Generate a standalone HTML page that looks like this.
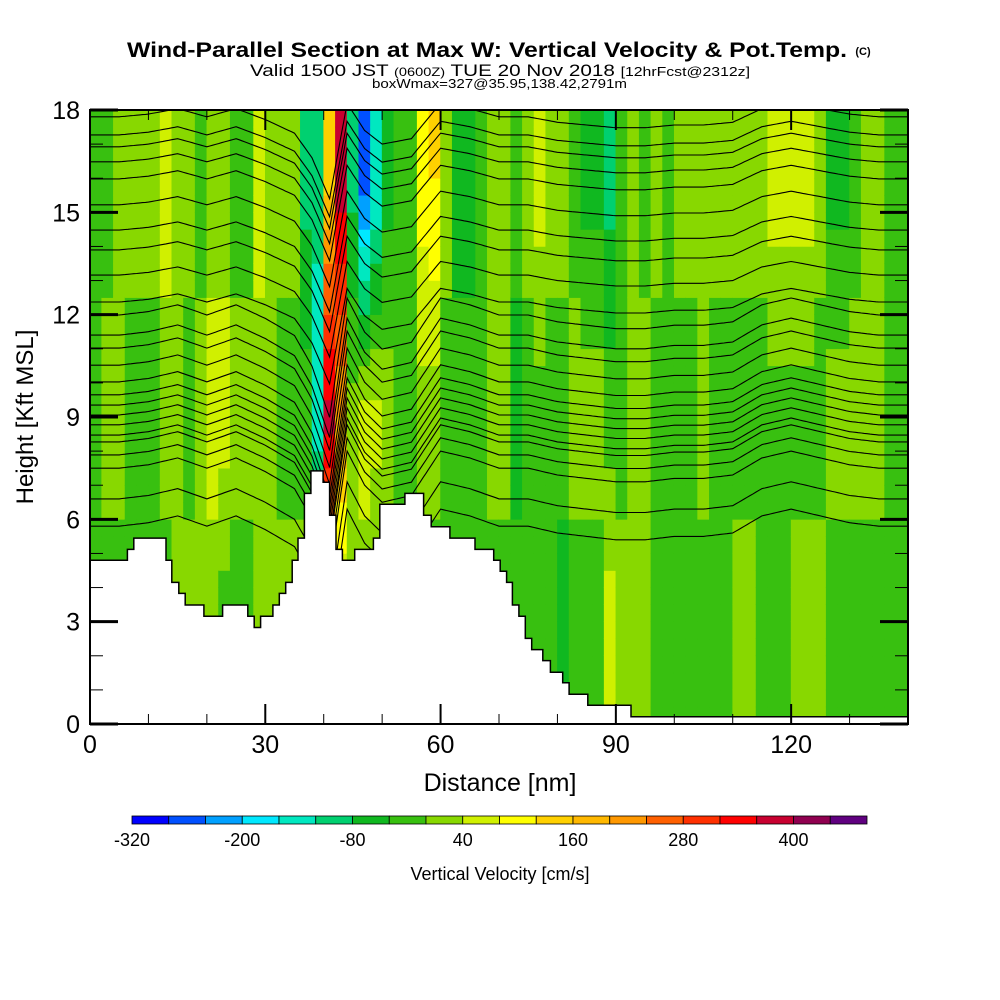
<!DOCTYPE html>
<html><head><meta charset="utf-8"><style>
body{margin:0;background:#fff;}
svg{display:block;font-family:"Liberation Sans",sans-serif;}
</style></head><body>
<svg id="chart" width="1000" height="1000" viewBox="0 0 1000 1000" xmlns="http://www.w3.org/2000/svg">
<rect width="1000" height="1000" fill="#fff"/>
<text x="127" y="57" textLength="720" lengthAdjust="spacingAndGlyphs" font-size="21" font-weight="bold">Wind-Parallel Section at Max W: Vertical Velocity &amp; Pot.Temp.</text>
<text x="863" y="55" text-anchor="middle" font-size="11" font-weight="bold">(C)</text>
<text x="250" y="76" textLength="500" lengthAdjust="spacingAndGlyphs" font-size="17">Valid 1500 JST <tspan font-size="12">(0600Z)</tspan> TUE 20 Nov 2018 <tspan font-size="13">[12hrFcst@2312z]</tspan></text>
<text x="372" y="88" textLength="255" lengthAdjust="spacingAndGlyphs" font-size="13">boxWmax=327@35.95,138.42,2791m</text>
<defs><clipPath id="plotclip"><rect x="90" y="110" width="818" height="614"/></clipPath></defs>
<g id="field" clip-path="url(#plotclip)"></g>
<g id="contours" clip-path="url(#plotclip)"></g>
<g id="terrain" clip-path="url(#plotclip)"></g>
<g id="axes"></g>
<g id="colorbar"></g>
<text x="500" y="791" text-anchor="middle" font-size="25">Distance [nm]</text>
<text transform="translate(33,417) rotate(-90)" text-anchor="middle" font-size="24">Height [Kft MSL]</text>
<text x="500" y="880" text-anchor="middle" font-size="18">Vertical Velocity [cm/s]</text>
</svg>
<script>
// ---- data ----
const xTicks = [0,30,60,90,120];
const yTicks = [0,3,6,9,12,15,18];
const cbTickLabels = [-320,-200,-80,40,160,280,400];
const cbLevels = [-320,-280,-240,-200,-160,-120,-80,-40,0,40,80,120,160,200,240,280,320,360,400,440,480];
const cbColors = ["#0000ff","#0050ff","#00a0ff","#00e8ff","#00e8c0","#00d070","#10b820","#38c010","#88d800","#d0f000","#ffff00","#ffd000","#ffb800","#ff9800","#ff6000","#ff3000","#ff0000","#c80030","#900050","#600080"];
const colNm = 2; // column width in nm
const wRowHeights = [3,9,16];
const wLow = [-20,-20,-20,-20,-20,-20,-20,20,20,20,20,-20,-20,-20,20,20,20,20,20,60,100,20,20,20,-20,-20,-20,-20,-20,-20,-20,-20,-20,-20,-20,-20,-20,-20,-20,-20,-60,-20,-20,-20,60,20,20,20,-20,-20,-20,-20,-20,-20,-20,20,20,-20,-20,-20,20,20,20,-20,-20,-20,-20,-20,-20,-20];
const wMid = [-20,20,20,-20,-20,-20,20,20,-20,20,60,60,20,20,20,20,-20,-20,-20,-160,380,200,20,60,60,20,-20,-20,20,20,-20,-20,-20,-20,20,20,-60,-20,-20,-20,-20,20,20,20,-20,-20,20,20,-20,-20,-20,-20,20,-20,-20,-20,-20,-20,-20,-20,-20,-20,-20,20,20,20,20,20,-20,-20];
const wTop = [-20,-20,20,20,20,20,60,20,20,-20,20,20,-20,-20,60,20,20,20,-100,-100,150,380,-100,-260,-160,-60,-20,-20,100,120,20,-60,-60,-20,20,20,-20,20,60,20,20,-20,-60,-60,-100,-20,20,-20,20,-20,20,20,20,20,20,20,20,20,60,60,60,60,20,-60,-60,-20,20,20,-20,-20];
const terrainX = [0,6.4,7.5,13,14,15.2,16.3,19.5,22.7,27,28.1,29.2,31.3,32.4,33.5,34.6,35.6,36.7,37.8,39.9,41,42.1,43.2,45.3,48.5,49.6,53.9,57.1,58.4,61.6,65.9,69.1,70.2,71.3,72.3,73.4,74.5,75.6,77.5,78.8,80.9,82,85.2,92.6,140];
const terrainH = [4.8,5.12,5.45,4.8,4.15,3.83,3.49,3.16,3.49,3.16,2.83,3.16,3.49,3.83,4.15,4.8,5.45,6.76,7.42,7.09,6.12,5.12,4.8,5.12,5.45,6.44,6.76,6.12,5.78,5.45,5.12,4.8,4.48,4.15,3.49,3.16,2.51,2.18,1.86,1.52,1.21,0.87,0.55,0.21];
const thetaLevels = [17.8,17.27,16.92,16.48,15.98,15.22,14.48,13.9,13.16,12.37,11.99,11.4,11.02,10.52,10.03,9.65,9.35,9.06,8.77,8.47,8.27,7.89,7.5,6.6,5.8];
const dispNm = [0,5,10,15,20,25,30,35,38,41,44,47,50,55,60,65,70,75,80,85,90,95,100,105,110,115,120,125,130,135,140];
const dispKft = [0,0,0.1,0.3,0,0.3,-0.1,-0.6,-1.5,-3.0,0.5,-0.5,-1.0,-0.8,0.5,0.3,0,0,-0.2,-0.3,-0.4,-0.4,-0.3,-0.3,-0.2,0.3,0.5,0.3,0.1,0,0];

// ---- scales ----
const X0=90,X1=908,Y0=724,Y1=110;
const xs = d => X0 + d*(X1-X0)/140;
const ys = h => Y0 - h*(Y0-Y1)/18;
const NS="http://www.w3.org/2000/svg";
function mk(tag, parent, attrs){const e=document.createElementNS(NS,tag);for(const k in attrs)e.setAttribute(k,attrs[k]);parent.appendChild(e);return e;}
function colorFor(v){let i=Math.floor((v-cbLevels[0])/40);i=Math.max(0,Math.min(cbColors.length-1,i));return cbColors[i];}
function wAt(i,h){
  const a=wLow[i],b=wMid[i],c=wTop[i];
  if(h<=wRowHeights[0])return a;
  if(h<=wRowHeights[1])return a+(b-a)*(h-wRowHeights[0])/(wRowHeights[1]-wRowHeights[0]);
  if(h<=wRowHeights[2])return b+(c-b)*(h-wRowHeights[1])/(wRowHeights[2]-wRowHeights[1]);
  return c;
}
// ---- field ----
const field=document.getElementById('field');
for(let i=0;i<wTop.length;i++){
  for(let r=0;r<36;r++){
    const h=r*0.5+0.25;
    const el=mk('rect',field,{x:xs(i*colNm)-0.3,y:ys(r*0.5+0.5)-0.3,width:xs(colNm)-X0+0.6,height:(Y0-Y1)/36+0.6,fill:colorFor(wAt(i,h))});
    
    
  }
}
// ---- contours ----
function disp(d){for(let k=0;k<dispNm.length-1;k++){if(d>=dispNm[k]&&d<=dispNm[k+1]){const t=(d-dispNm[k])/(dispNm[k+1]-dispNm[k]);return dispKft[k]+t*(dispKft[k+1]-dispKft[k]);}}return 0;}
const cg=document.getElementById('contours');
thetaLevels.forEach(L=>{
  let p='';
  for(let d=0;d<=140;d+=0.5){p+=(d?'L':'M')+xs(d).toFixed(1)+','+ys(L+disp(d)*(L>12?0.8:1.0)).toFixed(1);}
  const el=mk('path',cg,{d:p,fill:'none',stroke:'#000','stroke-width':1.1});
  
  
});
// ---- terrain ----
let tp='M'+xs(0)+','+(Y0+2);
for(let k=0;k<terrainH.length;k++){tp+='L'+xs(terrainX[k]).toFixed(1)+','+ys(terrainH[k]).toFixed(1)+'L'+xs(terrainX[k+1]).toFixed(1)+','+ys(terrainH[k]).toFixed(1);}
tp+='L'+xs(140)+','+(Y0+2)+'Z';
const tEl=mk('path',document.getElementById('terrain'),{d:tp,fill:'#fff',stroke:'#000','stroke-width':1.5});


// ---- axes ----
const ax=document.getElementById('axes');
const frame=mk('rect',ax,{x:X0,y:Y1,width:X1-X0,height:Y0-Y1,fill:'none',stroke:'#000','stroke-width':2});


for(let d=0;d<=140;d+=10){
  const major=xTicks.includes(d),len=major?20:10;
  mk('line',ax,{x1:xs(d),x2:xs(d),y1:Y0,y2:Y0-len,stroke:'#000','stroke-width':major?2:1});
  mk('line',ax,{x1:xs(d),x2:xs(d),y1:Y1,y2:Y1+len,stroke:'#000','stroke-width':major?2:1});
}
xTicks.forEach(d=>{const t=mk('text',ax,{x:xs(d),y:Y0+29,'text-anchor':'middle','font-size':25});t.textContent=d;

});
for(let h=0;h<=18;h+=1){
  const major=yTicks.includes(h),len=major?28:13;
  mk('line',ax,{x1:X0,x2:X0+len,y1:ys(h),y2:ys(h),stroke:'#000','stroke-width':major?3:1});
  mk('line',ax,{x1:X1,x2:X1-len,y1:ys(h),y2:ys(h),stroke:'#000','stroke-width':major?3:1});
}
yTicks.forEach(h=>{const t=mk('text',ax,{x:80,y:ys(h)+9,'text-anchor':'end','font-size':25});t.textContent=h;

});
// ---- colorbar ----
const cb=document.getElementById('colorbar');
const CB0=132,CB1=867,bw=(CB1-CB0)/cbColors.length;
cbColors.forEach((c,i)=>{const r=mk('rect',cb,{x:CB0+i*bw,y:816,width:bw,height:8,fill:c,stroke:'#000','stroke-width':0.8});

});
cbTickLabels.forEach(v=>{const i=cbLevels.indexOf(v);const t=mk('text',cb,{x:CB0+i*bw,y:846,'text-anchor':'middle','font-size':18});t.textContent=v;

});
</script>
</body></html>
